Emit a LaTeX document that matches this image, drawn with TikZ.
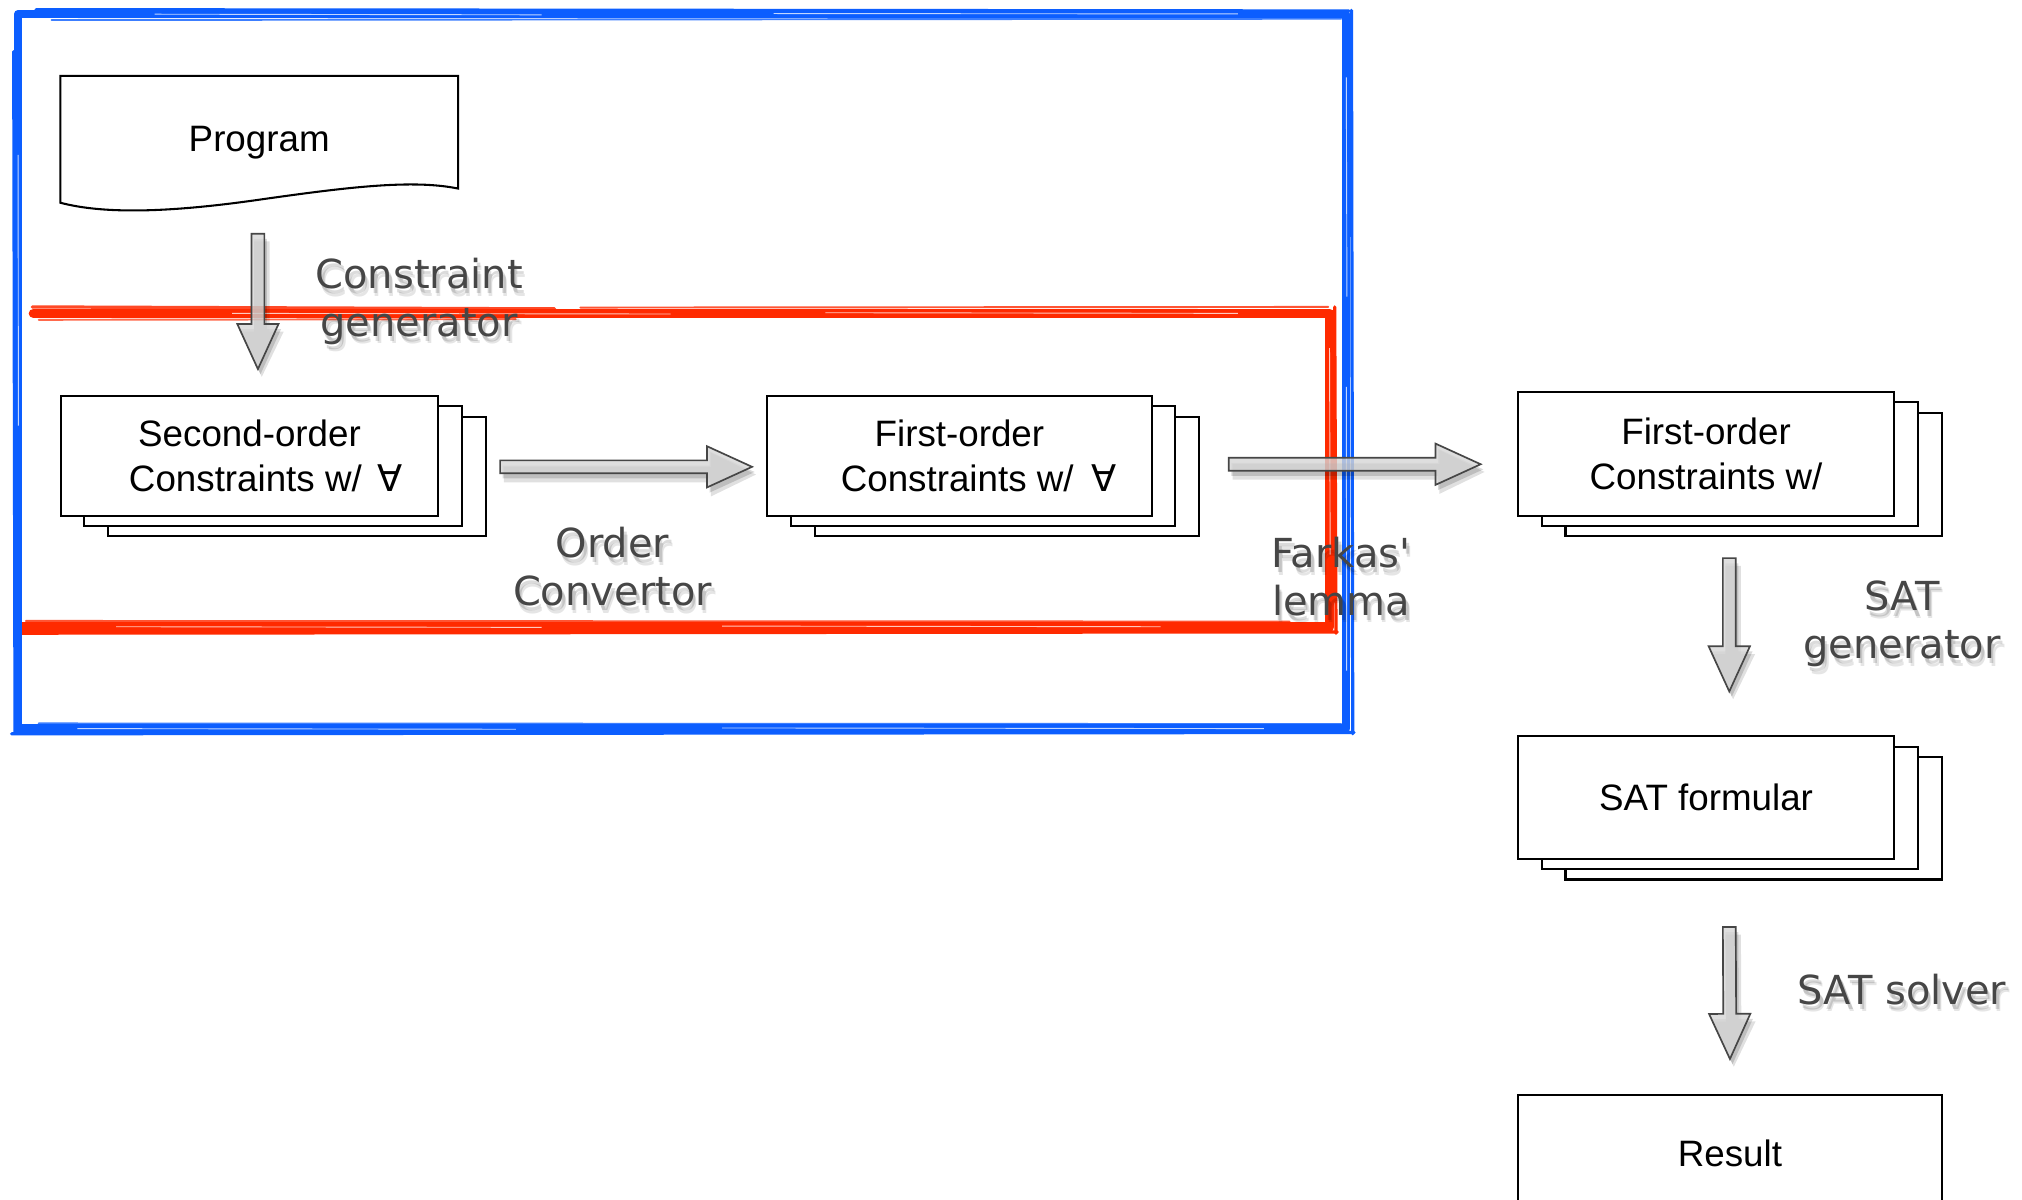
\documentclass[tikz,border=0pt]{standalone}
\usepackage{fontspec}
\setmainfont{Liberation Sans}
\newfontfamily\lblfont{DejaVu Sans}
\newfontfamily\symfont{DejaVu Sans}
\usetikzlibrary{calc,shadows}

\definecolor{sketchblue}{RGB}{12,94,255}
\definecolor{sketchred}{RGB}{255,42,0}
\definecolor{arrowfill}{RGB}{214,214,214}
\definecolor{arrowline}{RGB}{70,70,70}
\definecolor{labelgray}{RGB}{70,70,70}

\tikzset{
  boxtext/.style={font=\fontsize{28.5pt}{35pt}\selectfont, align=center, inner sep=0pt},
  plainbox/.style={boxtext, draw=black, line width=1.6pt, fill=white},
  stackbox/.style={plainbox,
    copy shadow={shadow xshift=37pt, shadow yshift=-16pt, draw=black, fill=white, line width=1.6pt},
    copy shadow={shadow xshift=18.5pt, shadow yshift=-8pt, draw=black, fill=white, line width=1.6pt}},
  docline/.style={draw=black, line width=1.6pt, fill=white},
  lbl/.style={font=\lblfont\fontsize{31pt}{37pt}\selectfont, text=labelgray, align=center, inner sep=0pt},
  lblshade/.style={lbl, text=black, opacity=#1},
  arrowbody/.style={draw=arrowline, line width=1.3pt, fill=arrowfill, fill opacity=.8, line join=miter},
  arrowshade/.style={fill=black, opacity=#1, draw=none},
  bluestroke/.style={draw=sketchblue, line cap=round, line join=round},
  redstroke/.style={draw=sketchred, line cap=round, line join=round},
  scratch/.style={draw=white, line width=.7pt, opacity=.75},
}

% fat block arrow between two named coordinates
\newcommand\blockarrow[2]{%
  \path[arrowshade=.12] let \p1=(#1), \p2=(#2),
      \n1={atan2(\y2-\y1,\x2-\x1)}, \n2={veclen(\x2-\x1,\y2-\y1)} in
    [shift={(\x1+3pt,\y1-6pt)}, rotate=\n1]
    (0,6) -- ({\n2-35},6) -- ({\n2-35},17) -- (\n2,0) -- ({\n2-35},-17) -- ({\n2-35},-6) -- (0,-6) -- cycle;
  \path[arrowshade=.15] let \p1=(#1), \p2=(#2),
      \n1={atan2(\y2-\y1,\x2-\x1)}, \n2={veclen(\x2-\x1,\y2-\y1)} in
    [shift={(\x1+2pt,\y1-4pt)}, rotate=\n1]
    (0,5) -- ({\n2-35},5) -- ({\n2-35},16) -- (\n2,0) -- ({\n2-35},-16) -- ({\n2-35},-5) -- (0,-5) -- cycle;
  \path[arrowbody] let \p1=(#1), \p2=(#2),
      \n1={atan2(\y2-\y1,\x2-\x1)}, \n2={veclen(\x2-\x1,\y2-\y1)} in
    [shift={(\p1)}, rotate=\n1]
    (0,5) -- ({\n2-35},5) -- ({\n2-35},16) -- (\n2,0) -- ({\n2-35},-16) -- ({\n2-35},-5) -- (0,-5) -- cycle;
}

% grey label with a soft drop shadow
\newcommand\shadelabel[3]{%
  \node[lblshade=.10] at ($(#2)+(3,6)$) {#3};
  \node[lblshade=.14] at ($(#2)+(2,4)$) {#3};
  \node[lbl] (#1) at (#2) {#3};
}

\begin{document}
\begin{tikzpicture}[x=1pt, y=-1pt]
\useasboundingbox (0,0) rectangle (1568,930);
\clip (0,0) rectangle (1568,930);
\fill[white] (0,0) rectangle (1568,930);

% ---- red frame (drawn first, blue lies over its left edge)
\draw[redstroke, line width=3pt] (14,243) -- (14,486);
\draw[redstroke, line width=7.5pt] (26,243) -- (1031,243) -- (1031,486) -- (15,486);
\draw[redstroke, line width=2.5pt, opacity=.85] (25,238) -- (430,239.5);
\draw[redstroke, line width=1.5pt, opacity=.7] (30,248) -- (400,247.5);
\draw[redstroke, line width=1.5pt, opacity=.8] (450,238.5) -- (1030,238);
\draw[redstroke, line width=2.5pt] (1035,238) -- (1036,491);
\draw[redstroke, line width=2.5pt] (13,491) -- (1037,490);
\draw[redstroke, line width=1.5pt, opacity=.8] (20,481.5) -- (1000,482);
\draw[scratch] (180,243) -- (520,243.5);
\draw[scratch] (640,242.5) -- (960,243);
\draw[scratch] (1031,270) -- (1031.5,430);
\draw[scratch] (90,486) -- (420,486.5);
\draw[scratch] (560,485.5) -- (900,486);

% ---- blue frame
\draw[bluestroke, line width=6.5pt] (14,11) -- (1044,11) -- (1044,565) -- (14,565) -- cycle;
\draw[bluestroke, line width=2.5pt] (28,7.5) -- (1046,8.5);
\draw[bluestroke, line width=1.5pt, opacity=.8] (40,15.5) -- (1040,14.5);
\draw[bluestroke, line width=2.2pt] (10.5,40) -- (11.5,568);
\draw[bluestroke, line width=2.5pt] (1048,8) -- (1049,569);
\draw[bluestroke, line width=2.5pt] (9,569) -- (1050,568);
\draw[bluestroke, line width=1.5pt, opacity=.8] (30,561) -- (1040,561.5);
\draw[scratch] (120,11) -- (420,11.5);
\draw[scratch] (600,10.5) -- (960,10.8);
\draw[scratch] (1044,60) -- (1044.5,230);
\draw[scratch] (1044,300) -- (1044.3,520);
\draw[scratch] (60,565) -- (400,565.5);
\draw[scratch] (560,564.5) -- (980,565);
\draw[scratch] (14,120) -- (14.3,330);

% ---- nodes
\node[boxtext, minimum width=308pt, minimum height=98pt] (prog) at (201,108) {};
\draw[docline] (prog.north west) -- (prog.north east) -- ($(prog.south east)+(0,-11)$)
  .. controls (320,139) and (270,145) .. (200,155)
  .. controls (130,165) and (80,166) .. (prog.south west) -- cycle;
\node[boxtext] at ($(prog.center)+(0,3)$) {Program};

\node[stackbox, minimum width=293pt, minimum height=93pt] (so) at (193.5,353.5)
  {Second-order\\\hspace*{25pt}Constraints w/ \hspace{4pt}{\symfont ∀}};
\node[stackbox, minimum width=298pt, minimum height=93pt] (fo1) at (744,353.5)
  {First-order\\\hspace*{30pt}Constraints w/ \hspace{6pt}{\symfont ∀}};
\node[stackbox, minimum width=292pt, minimum height=96pt] (fo2) at (1323,352)
  {First-order\\Constraints w/};
\node[stackbox, minimum width=292pt, minimum height=95pt] (sat) at (1323,618.5)
  {SAT formular};
\node[plainbox, minimum width=329pt, minimum height=91pt] (res) at (1341.5,894.5)
  {Result};

% ---- arrow end points
\coordinate (a1s) at ($(prog.south)+(-1,24)$);
\coordinate (a1e) at ($(so.north)+(6.5,-20)$);
\coordinate (a2s) at ($(so.east)+(47,8.5)$);
\coordinate (a2e) at ($(fo1.west)+(-11,8.5)$);
\coordinate (a3s) at ($(fo1.east)+(59,6.5)$);
\coordinate (a3e) at ($(fo2.west)+(-28,8)$);
\coordinate (a4s) at ($(fo2.south)+(18,32)$);
\coordinate (a4e) at ($(sat.north)+(18,-34)$);
\coordinate (a5s) at ($(sat.south)+(18,52)$);
\coordinate (a5e) at ($(res.north)+(0,-27)$);

\blockarrow{a1s}{a1e}
\blockarrow{a2s}{a2e}
\blockarrow{a3s}{a3e}
\blockarrow{a4s}{a4e}
\blockarrow{a5s}{a5e}

% ---- step labels
\shadelabel{lgen}{325,233.5}{Constraint\\generator}
\shadelabel{lord}{475,439.5}{Order\\Convertor}
\shadelabel{lfar}{1040,447}{Farkas'\\lemma}
\shadelabel{lsat}{1475,484}{SAT\\generator}
\shadelabel{lsol}{1475,767}{SAT solver}
\end{tikzpicture}
\end{document}
